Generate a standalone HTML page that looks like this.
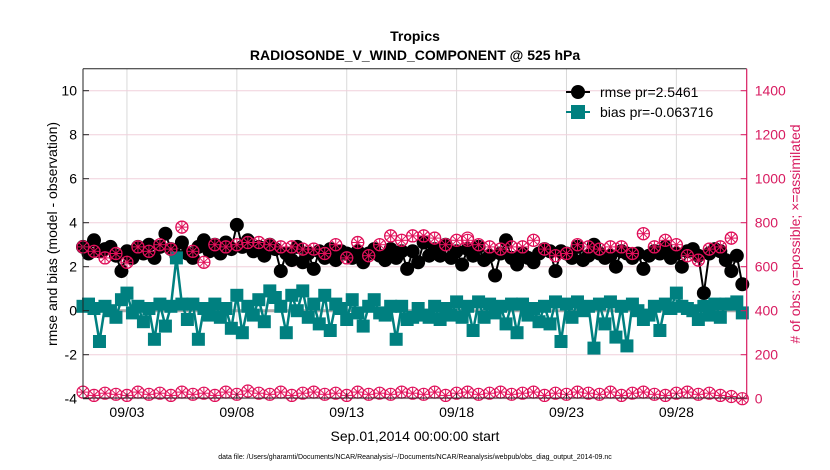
<!DOCTYPE html>
<html><head><meta charset="utf-8"><style>
html,body{margin:0;padding:0;background:#fff;}
svg{display:block;font-family:"Liberation Sans",Arial,sans-serif;}
</style></head><body>
<svg id="chart" width="830" height="470">
<text x="415" y="41" text-anchor="middle" font-size="14" font-weight="bold">Tropics</text>
<text x="415" y="60" text-anchor="middle" font-size="14" font-weight="bold">RADIOSONDE_V_WIND_COMPONENT @ 525 hPa</text>
<g id="grid"></g><g id="series"></g><g id="axes"></g>
<text x="57" y="234" text-anchor="middle" font-size="14" transform="rotate(-90 57 234)">rmse and bias (model - observation)</text>
<text x="800" y="234" text-anchor="middle" font-size="14" fill="#d81b60" transform="rotate(-90 800 234)"># of obs: o=possible; ×=assimilated</text>
<text x="415" y="441" text-anchor="middle" font-size="14">Sep.01,2014 00:00:00 start</text>
<text x="415" y="459" text-anchor="middle" font-size="7">data file: /Users/gharamti/Documents/NCAR/Reanalysis/~/Documents/NCAR/Reanalysis/webpub/obs_diag_output_2014-09.nc</text>
<g>
<line x1="566" y1="92" x2="590" y2="92" stroke="#000" stroke-width="2"/><circle cx="578" cy="92" r="7" fill="#000"/>
<text x="600" y="97" font-size="14">rmse pr=2.5461</text>
<line x1="566" y1="112" x2="590" y2="112" stroke="#008080" stroke-width="2"/><rect x="571" y="105" width="14" height="14" fill="#008080"/>
<text x="600" y="117" font-size="14">bias pr=-0.063716</text>
</g>
</svg>
<script>
const rmse=[2.9,2.6,3.2,2.7,2.8,2.9,2.5,1.8,2.7,2.4,2.9,2.6,3.0,2.4,2.9,3.5,2.8,2.5,3.1,2.6,2.4,2.9,3.2,2.7,3.0,2.6,3.1,2.8,3.9,2.9,3.2,2.7,2.9,2.5,3.0,2.8,1.8,2.6,2.3,2.9,2.2,2.6,1.9,2.7,2.4,2.8,2.3,2.7,2.6,2.4,2.7,2.2,2.6,2.8,2.5,2.3,2.8,2.4,2.7,1.9,2.7,2.2,3.1,2.5,2.8,2.5,3.0,2.4,2.7,2.1,2.8,2.5,2.9,2.3,2.5,1.6,2.6,3.2,2.4,2.1,2.6,2.4,2.2,2.6,2.8,2.7,1.8,2.7,2.6,2.4,2.9,2.3,2.5,3.0,2.6,2.4,2.5,2.0,2.7,2.6,2.4,2.6,1.9,2.5,2.7,2.6,2.9,2.4,2.6,2.0,2.7,2.8,2.5,0.8,2.6,2.8,2.7,2.3,1.8,2.5,1.2];
const bias=[0.2,0.3,0.1,-1.4,0.2,0.0,-0.3,0.5,0.8,-0.1,0.2,-0.5,0.1,-1.3,0.3,-0.7,0.2,2.4,0.3,-0.4,0.3,-1.3,0.1,-0.2,0.3,-0.3,0.1,-0.8,0.7,-1.0,0.2,-0.2,0.5,-0.5,0.9,0.6,0.2,-1.0,0.7,0.0,0.9,-0.3,0.3,-0.6,0.7,-0.9,0.3,0.1,-0.4,0.5,-0.1,-0.7,0.2,0.5,-0.1,-0.2,0.2,-1.3,0.2,-0.4,-0.3,0.1,-0.2,-0.3,0.2,-0.4,0.1,-0.2,0.4,-0.3,0.2,-0.9,0.4,-0.3,0.3,-0.1,0.2,-0.6,0.3,-1.0,0.3,-0.2,0.1,-0.5,0.2,-0.6,0.4,-1.4,0.3,-0.3,0.4,0.0,0.2,-1.7,0.3,-0.6,0.4,-1.2,0.2,-1.6,0.3,0.0,-0.4,-0.2,0.2,-0.9,0.3,0.1,0.8,0.2,0.1,0.0,-0.4,0.2,-0.2,0.3,-0.3,0.3,0.3,0.4,-0.1];
const obsHigh=[690,670,640,660,620,690,670,700,680,780,670,620,700,690,700,710,710,700,690,690,680,680,660,700,640,710,650,700,740,720,740,740,730,700,720,730,700,690,680,690,690,720,680,650,660,700,690,680,690,690,660,750,690,720,700,650,630,680,690,730,null];
const obsHighAssim=[690,670,640,660,620,690,670,700,680,780,670,620,700,690,700,710,710,700,690,690,680,680,660,700,640,710,650,700,740,720,740,740,730,700,720,720,700,690,680,690,690,720,680,650,660,700,690,680,690,690,660,750,690,720,700,650,630,680,690,730,null];
const obsLow=[30,15,25,20,15,30,20,25,15,30,20,25,15,30,20,35,25,20,30,15,25,30,20,25,15,30,20,25,20,30,25,20,30,15,25,30,20,25,30,20,25,30,15,25,20,30,25,20,30,15,25,30,20,15,25,30,20,25,15,10,0];
const leftTicks=[-4,-2,0,2,4,6,8,10];
const rightTicks=[0,200,400,600,800,1000,1200,1400];
const dayTicks=[3,8,13,18,23,28];
const dayLabels=["09/03","09/08","09/13","09/18","09/23","09/28"];

const NS="http://www.w3.org/2000/svg";
const X0=83,X1=746.7,Y0=68.7,Y1=398;
const PX_DAY=(X1-X0)/30.2;
function xd(d){return X0+d*PX_DAY;}
function yl(v){return 310.7-v*22;}
function yr(o){return yl(o/100-4);}
function mk(tag,attrs,parent){const e=document.createElementNS(NS,tag);for(const k in attrs)e.setAttribute(k,attrs[k]);parent.appendChild(e);return e;}
const grid=document.getElementById('grid'),ser=document.getElementById('series'),ax=document.getElementById('axes');

dayTicks.forEach((d,i)=>{
  const l=mk('line',{x1:xd(d-1),x2:xd(d-1),y1:Y0,y2:Y1,stroke:'#d9d9d9','stroke-width':1},grid);
  
  
  const t=mk('text',{x:xd(d-1),y:Y1+19,'text-anchor':'middle','font-size':14},ax);
  t.textContent=dayLabels[i];
  
  
  mk('line',{x1:xd(d-1),x2:xd(d-1),y1:Y1,y2:Y1-5,stroke:'#222'},ax);
});
rightTicks.forEach(o=>{
  const y=yr(o);
  const l=mk('line',{x1:X0,x2:X1,y1:y,y2:y,stroke:'#f0d0dc','stroke-width':1},grid);
  
  
  mk('line',{x1:X1,x2:X1-6,y1:y,y2:y,stroke:'#d81b60'},ax);
  const t=mk('text',{x:X1+8,y:y+5,'font-size':14,fill:'#d81b60'},ax);
  t.textContent=o;
  
  
});
leftTicks.forEach(v=>{
  const y=yl(v);
  mk('line',{x1:X0,x2:X0+6,y1:y,y2:y,stroke:'#222'},ax);
  const t=mk('text',{x:X0-6,y:y+5,'font-size':14,'text-anchor':'end'},ax);
  t.textContent=v;
  
  
});
mk('line',{x1:X0,x2:X0,y1:Y0,y2:Y1,stroke:'#222'},ax);
mk('line',{x1:X0,x2:X1,y1:Y0,y2:Y0,stroke:'#222'},ax);
mk('line',{x1:X0,x2:X1,y1:Y1,y2:Y1,stroke:'#222'},ax);
mk('line',{x1:X1,x2:X1,y1:Y0,y2:Y1,stroke:'#d81b60','stroke-width':1.2},ax);

function obsMark(x,y,star){
  const g=mk('g',{},ser);
  
  
  mk('circle',{cx:x,cy:y,r:6,fill:'none',stroke:'#e0105a','stroke-width':1.2},g);
  if(star){const s=6;for(let a=0;a<4;a++){const an=a*Math.PI/4;mk('line',{x1:x-s*Math.cos(an),y1:y-s*Math.sin(an),x2:x+s*Math.cos(an),y2:y+s*Math.sin(an),stroke:'#e0105a','stroke-width':1},g);}}
}
let pts=rmse.map((v,i)=>xd(i/4)+','+yl(v)).join(' ');
const rl=mk('polyline',{points:pts,fill:'none',stroke:'#000','stroke-width':2},ser);


rmse.forEach((v,i)=>{const c=mk('circle',{cx:xd(i/4),cy:yl(v),r:7,fill:'#000'},ser);
  
  });
mk('line',{x1:X0,x2:X1,y1:yl(0),y2:yl(0),stroke:'#aaa','stroke-width':3},ser);
pts=bias.map((v,i)=>xd(i/4)+','+yl(v)).join(' ');
const bl=mk('polyline',{points:pts,fill:'none',stroke:'#008080','stroke-width':2.5},ser);


bias.forEach((v,i)=>{const r=mk('rect',{x:xd(i/4)-6.5,y:yl(v)-6.5,width:13,height:13,fill:'#008080'},ser);
  
  });
obsHigh.forEach((o,i)=>{if(o!==null)obsMark(xd(i/2),yr(o),false);});
obsHighAssim.forEach((o,i)=>{if(o!==null)obsMark(xd(i/2),yr(o),true);});
obsLow.forEach((o,i)=>{obsMark(xd(i/2),yr(o),true);});
</script>
</body></html>
